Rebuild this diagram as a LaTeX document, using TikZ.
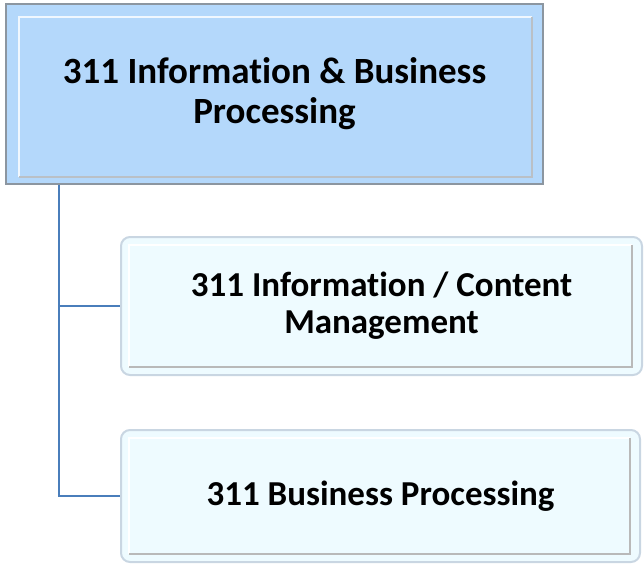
\documentclass[tikz,border=0pt]{standalone}
\usepackage{fontspec}
\setmainfont{Carlito}[Ligatures=NoCommon]
\usetikzlibrary{calc}
\definecolor{topblue}{HTML}{B4D8FB}
\definecolor{topedge}{HTML}{8C96A0}
\definecolor{childfill}{HTML}{EEFBFF}
\definecolor{childedge}{HTML}{C9D6E2}
\definecolor{linkblue}{HTML}{4A7EBB}
\tikzset{
  topbox/.style={draw=topedge,line width=1.5pt,fill=topblue,minimum width=537pt,minimum height=180pt,
    align=center,font=\fontsize{37}{40}\selectfont\bfseries},
  childbox/.style={draw=childedge,line width=2pt,fill=childfill,rounded corners=9pt,
    align=center,font=\fontsize{35}{37}\selectfont\bfseries},
  link/.style={draw=linkblue,line width=2pt}
}
\begin{document}
\begin{tikzpicture}[x=1pt,y=-1pt]
  \useasboundingbox (0,0) rectangle (644,564);
  % parent
  \node[topbox] (root) at (274.5,94) {311 Information \& Business\\Processing};
  \draw[white,line width=2pt,opacity=0.8] ($(root.south west)+(14,-8)$) -- ($(root.north west)+(14,14)$) -- ($(root.north east)+(-12,14)$);
  \draw[topedge!60,line width=2pt] ($(root.north east)+(-12,14)$) -- ($(root.south east)+(-12,-8)$) -- ($(root.south west)+(14,-8)$);
  % children
  \node[childbox,minimum width=521pt,minimum height=138pt] (info) at (381.5,306) {311 Information / Content\\Management};
  \node[childbox,minimum width=519pt,minimum height=132pt] (busi) at (380.5,496) {311 Business Processing};
  \foreach \n in {info,busi}{
    \draw[white,line width=2pt] ($(\n.south west)+(9,-9)$) -- ($(\n.north west)+(9,9)$) -- ($(\n.north east)+(-11,9)$);
    \draw[gray!55,line width=2pt] ($(\n.north east)+(-11,9)$) -- ($(\n.south east)+(-11,-9)$) -- ($(\n.south west)+(9,-9)$);
  }
  % connectors
  \coordinate (trunk) at ($(root.south west)+(54,0)$);
  \draw[link] (trunk) |- (info.west);
  \draw[link] (trunk) |- (busi.west);
\end{tikzpicture}
\end{document}
